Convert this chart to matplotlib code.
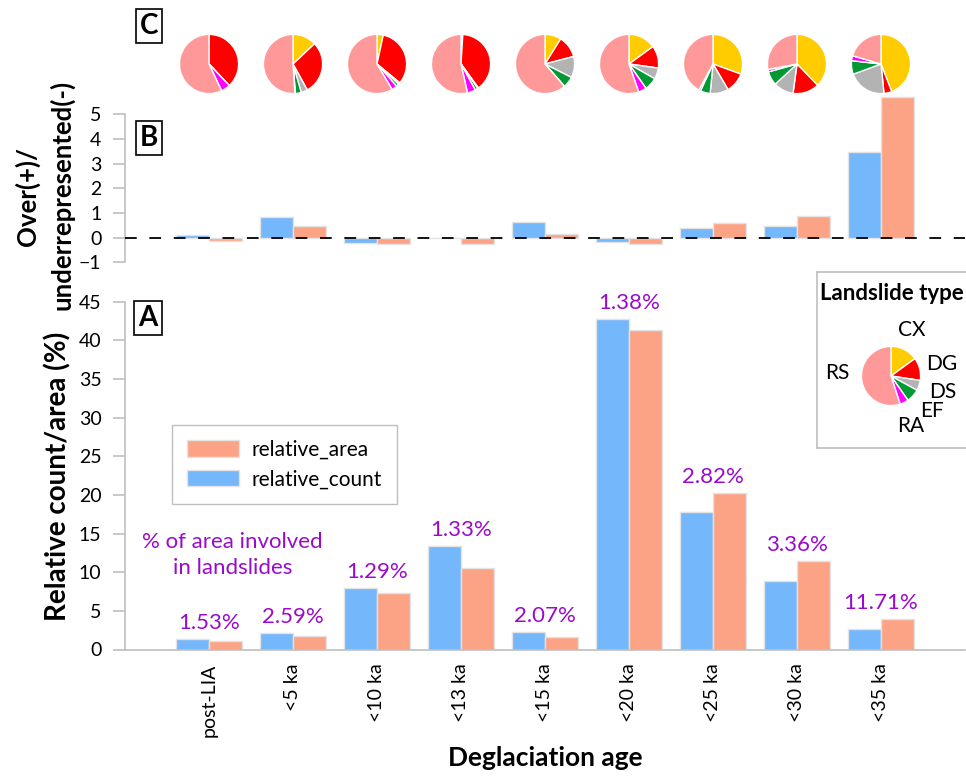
import numpy as np
import matplotlib
matplotlib.use("Agg")
import matplotlib.pyplot as plt

plt.rcParams['font.family'] = ['Lato', 'DejaVu Sans']

W, H = 966, 777

ages = ["post-LIA", "<5 ka", "<10 ka", "<13 ka", "<15 ka", "<20 ka", "<25 ka", "<30 ka", "<35 ka"]

# panel A
rel_count = [1.4, 2.1, 8.0, 13.4, 2.3, 42.7, 17.8, 8.9, 2.7]
rel_area = [1.1, 1.7, 7.3, 10.6, 1.6, 41.3, 20.2, 11.4, 4.0]
pct_area = ["1.53%", "2.59%", "1.29%", "1.33%", "2.07%", "1.38%", "2.82%", "3.36%", "11.71%"]

# panel B
over_count = [0.11, 0.84, -0.20, -0.02, 0.64, -0.19, 0.39, 0.46, 3.47]
over_area = [-0.13, 0.46, -0.27, -0.25, 0.15, -0.24, 0.60, 0.89, 5.69]

# panel C (landslide type shares, %)
types = ["CX", "DG", "DS", "EF", "RA", "RS"]
type_colors = ["#FFCC00", "#FF0000", "#B3B3B3", "#009933", "#FF00FF", "#FF9999"]
pie_cx = [0, 13, 3.4, 1, 8.9, 15, 30.5, 37.8, 44.1]
pie_dg = [38, 29, 32.6, 39, 12, 12.2, 11, 14.4, 4.3]
pie_ds = [0, 3.5, 1, 0.5, 11.6, 6.1, 10, 11, 21]
pie_ef = [0, 3.2, 1.5, 1.5, 6.1, 7, 5.4, 7.6, 7.4]
pie_ra = [5, 0.3, 3, 4.5, 0, 4.4, 1, 1.3, 2.7]
pie_rs = [57, 51, 58.5, 53.5, 61.4, 55.3, 42, 28, 20.5]
legend_shares = [15, 12.4, 5.6, 7.3, 4.7, 55]
# label offsets around the legend pie (pixels from its centre)
legend_label_pos = [(21, -46), (51, -12), (52, 16), (41, 35), (20, 50), (-54, -3)]

c_count = "#74B7FB"
c_area = "#FCA385"
edge = "#E3E3E3"
grey = "#BFBFBF"
purple = "#9A0ACD"


def fbox(x0, y0, x1, y1):
    return [x0 / W, 1 - y1 / H, (x1 - x0) / W, (y1 - y0) / H]


def fpt(px, py):
    return px / W, 1 - py / H


fig = plt.figure(figsize=(W / 100, H / 100), dpi=100)

axA = fig.add_axes(fbox(125, 301.7, 965, 649.5))
axB = fig.add_axes(fbox(125, 114.3, 965, 262.3))

x = np.arange(1, len(ages) + 1)
bw = 0.39

# ---- panel A
bc = axA.bar(x - 0.2, rel_count, bw, color=c_count, edgecolor=edge, lw=1, label="relative_count")
ba = axA.bar(x + 0.2, rel_area, bw, color=c_area, edgecolor=edge, lw=1, label="relative_area")
axA.set_xlim(0, 10)
axA.set_ylim(0, 45)
axA.set_yticks(np.arange(0, 46, 5))
axA.set_xticks(x)
axA.set_xticklabels(ages, rotation=90, fontsize=14)
axA.tick_params(axis='x', length=0, pad=10)
axA.tick_params(axis='y', length=9, width=1.2, color=grey, labelsize=14, pad=8)
for s in ["top", "right"]:
    axA.spines[s].set_visible(False)
axA.spines["left"].set_color(grey)
axA.spines["bottom"].set_color(grey)
axA.spines["left"].set_linewidth(1.2)
axA.spines["bottom"].set_linewidth(1.2)

for xi, c, a, t in zip(x, rel_count, rel_area, pct_area):
    axA.text(xi, max(c, a) + 1.3, t, ha="center", va="baseline", color=purple, fontsize=16)
axA.text(1.28, 12.2, "% of area involved\nin landslides", ha="center", va="center",
         color=purple, fontsize=16, linespacing=1.35)

axA.legend([ba, bc], ["relative_area", "relative_count"], loc="upper left",
           bbox_to_anchor=(162 / W, 1 - 415 / H), bbox_transform=fig.transFigure,
           fancybox=False, edgecolor=grey, fontsize=15, handlelength=2.5,
           handleheight=0.85, handletextpad=0.6, labelspacing=0.45, borderpad=0.7,
           framealpha=1)

fig.text(*fpt(58, 476), "Relative count/area (%)", rotation=90, ha="center", va="center",
         fontsize=20, fontweight="bold")
axA.set_xlabel("Deglaciation age", fontsize=19, fontweight="bold", labelpad=7)

# ---- panel B
axB.bar(x - 0.2, over_count, bw, color=c_count, edgecolor=edge, lw=1, clip_on=False)
axB.bar(x + 0.2, over_area, bw, color=c_area, edgecolor=edge, lw=1, clip_on=False)
axB.axhline(0, color="black", lw=1.3, dashes=(6.5, 7), zorder=3)
axB.set_xlim(0, 10)
axB.set_ylim(-1, 5)
axB.set_yticks(np.arange(-1, 6, 1))
axB.set_xticks([])
axB.tick_params(axis='y', length=9, width=1.2, color=grey, labelsize=14, pad=8)
for s in ["top", "right", "bottom"]:
    axB.spines[s].set_visible(False)
axB.spines["left"].set_color(grey)
axB.spines["left"].set_linewidth(1.2)
fig.text(*fpt(27, 196), "Over(+)/", rotation=90, ha="center", va="center",
         fontsize=18.5, fontweight="bold")
fig.text(*fpt(62, 195), "underrepresented(-)", rotation=90, ha="center", va="center",
         fontsize=18.5, fontweight="bold")

# ---- panel C pies above each age class
shares = np.array([pie_cx, pie_dg, pie_ds, pie_ef, pie_ra, pie_rs]).T
to_fig = fig.transFigure.inverted()
for xi, sh in zip(x, shares):
    px, _ = axA.transData.transform((xi, 0))
    fx, _ = to_fig.transform((px, 0))
    r = 37
    axp = fig.add_axes([fx - r / W, 1 - (64 + r) / H, 2 * r / W, 2 * r / H])
    axp.pie(sh, colors=type_colors, startangle=90, counterclock=False,
            wedgeprops=dict(edgecolor="white", linewidth=1))
    axp.set_aspect("equal")

# ---- landslide type legend box
axL = fig.add_axes(fbox(817, 272, 975, 448))
axL.set_xticks([])
axL.set_yticks([])
for s in axL.spines.values():
    s.set_color(grey)
    s.set_linewidth(1.2)
fig.text(*fpt(892, 294), "Landslide type", ha="center", va="center",
         fontsize=16, fontweight="bold")
lcx, lcy, lr = 891, 376, 37
axLp = fig.add_axes(fbox(lcx - lr, lcy - lr, lcx + lr, lcy + lr))
axLp.pie(legend_shares, colors=type_colors, startangle=90, counterclock=False,
         wedgeprops=dict(edgecolor="white", linewidth=1))
axLp.set_aspect("equal")
for t, (dx, dy) in zip(types, legend_label_pos):
    fig.text(*fpt(lcx + dx, lcy + dy), t, ha="center", va="center", fontsize=15)

# ---- panel letters
for lab, (cx, cy) in zip(["C", "B", "A"], [(149, 26), (149, 138), (148, 318)]):
    fig.text(*fpt(cx, cy), lab, ha="center", va="center", fontsize=20,
             fontweight="bold",
             bbox=dict(boxstyle="square,pad=0.15", fc="white", ec="black", lw=1.2))

fig.savefig("out.png", dpi=100)
